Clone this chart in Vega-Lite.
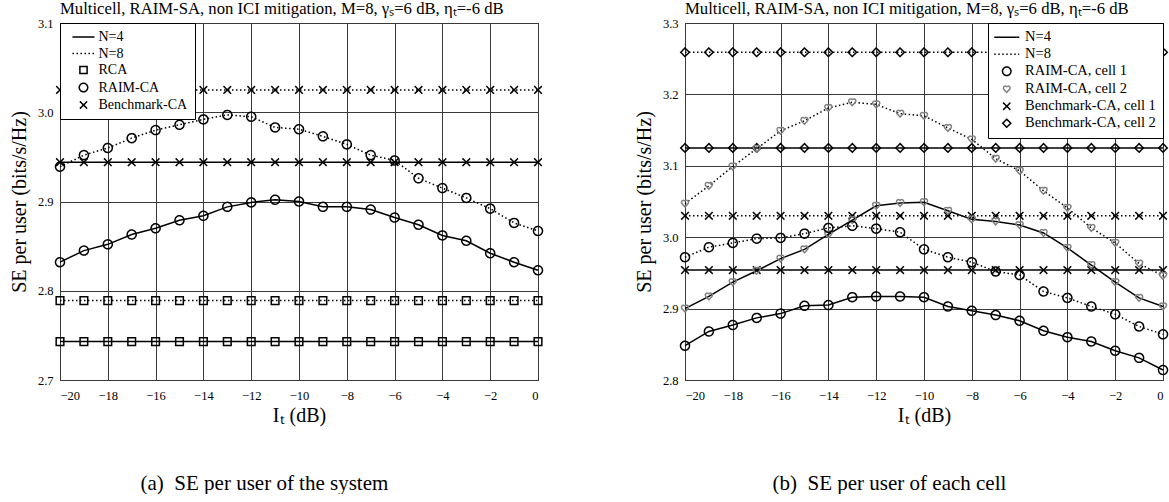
{
  "$schema": "https://vega.github.io/schema/vega-lite/v6.json",
  "padding": {"left": 8, "top": 0, "right": 0, "bottom": 0},
  "background": "white",
  "datasets": {
    "a": [
      {"series":"RCA","N":"N=4","It":-20,"SE":2.743},{"series":"RCA","N":"N=4","It":-19,"SE":2.743},{"series":"RCA","N":"N=4","It":-18,"SE":2.743},{"series":"RCA","N":"N=4","It":-17,"SE":2.743},{"series":"RCA","N":"N=4","It":-16,"SE":2.743},{"series":"RCA","N":"N=4","It":-15,"SE":2.743},{"series":"RCA","N":"N=4","It":-14,"SE":2.743},{"series":"RCA","N":"N=4","It":-13,"SE":2.743},{"series":"RCA","N":"N=4","It":-12,"SE":2.743},{"series":"RCA","N":"N=4","It":-11,"SE":2.743},{"series":"RCA","N":"N=4","It":-10,"SE":2.743},{"series":"RCA","N":"N=4","It":-9,"SE":2.743},{"series":"RCA","N":"N=4","It":-8,"SE":2.743},{"series":"RCA","N":"N=4","It":-7,"SE":2.743},{"series":"RCA","N":"N=4","It":-6,"SE":2.743},{"series":"RCA","N":"N=4","It":-5,"SE":2.743},{"series":"RCA","N":"N=4","It":-4,"SE":2.743},{"series":"RCA","N":"N=4","It":-3,"SE":2.743},{"series":"RCA","N":"N=4","It":-2,"SE":2.743},{"series":"RCA","N":"N=4","It":-1,"SE":2.743},{"series":"RCA","N":"N=4","It":0,"SE":2.743},
      {"series":"RCA","N":"N=8","It":-20,"SE":2.789},{"series":"RCA","N":"N=8","It":-19,"SE":2.789},{"series":"RCA","N":"N=8","It":-18,"SE":2.789},{"series":"RCA","N":"N=8","It":-17,"SE":2.789},{"series":"RCA","N":"N=8","It":-16,"SE":2.789},{"series":"RCA","N":"N=8","It":-15,"SE":2.789},{"series":"RCA","N":"N=8","It":-14,"SE":2.789},{"series":"RCA","N":"N=8","It":-13,"SE":2.789},{"series":"RCA","N":"N=8","It":-12,"SE":2.789},{"series":"RCA","N":"N=8","It":-11,"SE":2.789},{"series":"RCA","N":"N=8","It":-10,"SE":2.789},{"series":"RCA","N":"N=8","It":-9,"SE":2.789},{"series":"RCA","N":"N=8","It":-8,"SE":2.789},{"series":"RCA","N":"N=8","It":-7,"SE":2.789},{"series":"RCA","N":"N=8","It":-6,"SE":2.789},{"series":"RCA","N":"N=8","It":-5,"SE":2.789},{"series":"RCA","N":"N=8","It":-4,"SE":2.789},{"series":"RCA","N":"N=8","It":-3,"SE":2.789},{"series":"RCA","N":"N=8","It":-2,"SE":2.789},{"series":"RCA","N":"N=8","It":-1,"SE":2.789},{"series":"RCA","N":"N=8","It":0,"SE":2.789},
      {"series":"Benchmark-CA","N":"N=4","It":-20,"SE":2.944},{"series":"Benchmark-CA","N":"N=4","It":-19,"SE":2.944},{"series":"Benchmark-CA","N":"N=4","It":-18,"SE":2.944},{"series":"Benchmark-CA","N":"N=4","It":-17,"SE":2.944},{"series":"Benchmark-CA","N":"N=4","It":-16,"SE":2.944},{"series":"Benchmark-CA","N":"N=4","It":-15,"SE":2.944},{"series":"Benchmark-CA","N":"N=4","It":-14,"SE":2.944},{"series":"Benchmark-CA","N":"N=4","It":-13,"SE":2.944},{"series":"Benchmark-CA","N":"N=4","It":-12,"SE":2.944},{"series":"Benchmark-CA","N":"N=4","It":-11,"SE":2.944},{"series":"Benchmark-CA","N":"N=4","It":-10,"SE":2.944},{"series":"Benchmark-CA","N":"N=4","It":-9,"SE":2.944},{"series":"Benchmark-CA","N":"N=4","It":-8,"SE":2.944},{"series":"Benchmark-CA","N":"N=4","It":-7,"SE":2.944},{"series":"Benchmark-CA","N":"N=4","It":-6,"SE":2.944},{"series":"Benchmark-CA","N":"N=4","It":-5,"SE":2.944},{"series":"Benchmark-CA","N":"N=4","It":-4,"SE":2.944},{"series":"Benchmark-CA","N":"N=4","It":-3,"SE":2.944},{"series":"Benchmark-CA","N":"N=4","It":-2,"SE":2.944},{"series":"Benchmark-CA","N":"N=4","It":-1,"SE":2.944},{"series":"Benchmark-CA","N":"N=4","It":0,"SE":2.944},
      {"series":"Benchmark-CA","N":"N=8","It":-20,"SE":3.025},{"series":"Benchmark-CA","N":"N=8","It":-19,"SE":3.025},{"series":"Benchmark-CA","N":"N=8","It":-18,"SE":3.025},{"series":"Benchmark-CA","N":"N=8","It":-17,"SE":3.025},{"series":"Benchmark-CA","N":"N=8","It":-16,"SE":3.025},{"series":"Benchmark-CA","N":"N=8","It":-15,"SE":3.025},{"series":"Benchmark-CA","N":"N=8","It":-14,"SE":3.025},{"series":"Benchmark-CA","N":"N=8","It":-13,"SE":3.025},{"series":"Benchmark-CA","N":"N=8","It":-12,"SE":3.025},{"series":"Benchmark-CA","N":"N=8","It":-11,"SE":3.025},{"series":"Benchmark-CA","N":"N=8","It":-10,"SE":3.025},{"series":"Benchmark-CA","N":"N=8","It":-9,"SE":3.025},{"series":"Benchmark-CA","N":"N=8","It":-8,"SE":3.025},{"series":"Benchmark-CA","N":"N=8","It":-7,"SE":3.025},{"series":"Benchmark-CA","N":"N=8","It":-6,"SE":3.025},{"series":"Benchmark-CA","N":"N=8","It":-5,"SE":3.025},{"series":"Benchmark-CA","N":"N=8","It":-4,"SE":3.025},{"series":"Benchmark-CA","N":"N=8","It":-3,"SE":3.025},{"series":"Benchmark-CA","N":"N=8","It":-2,"SE":3.025},{"series":"Benchmark-CA","N":"N=8","It":-1,"SE":3.025},{"series":"Benchmark-CA","N":"N=8","It":0,"SE":3.025},
      {"series":"RAIM-CA","N":"N=4","It":-20,"SE":2.832},{"series":"RAIM-CA","N":"N=4","It":-19,"SE":2.845},{"series":"RAIM-CA","N":"N=4","It":-18,"SE":2.852},{"series":"RAIM-CA","N":"N=4","It":-17,"SE":2.863},{"series":"RAIM-CA","N":"N=4","It":-16,"SE":2.870},{"series":"RAIM-CA","N":"N=4","It":-15,"SE":2.879},{"series":"RAIM-CA","N":"N=4","It":-14,"SE":2.884},{"series":"RAIM-CA","N":"N=4","It":-13,"SE":2.894},{"series":"RAIM-CA","N":"N=4","It":-12,"SE":2.899},{"series":"RAIM-CA","N":"N=4","It":-11,"SE":2.902},{"series":"RAIM-CA","N":"N=4","It":-10,"SE":2.900},{"series":"RAIM-CA","N":"N=4","It":-9,"SE":2.894},{"series":"RAIM-CA","N":"N=4","It":-8,"SE":2.894},{"series":"RAIM-CA","N":"N=4","It":-7,"SE":2.891},{"series":"RAIM-CA","N":"N=4","It":-6,"SE":2.882},{"series":"RAIM-CA","N":"N=4","It":-5,"SE":2.874},{"series":"RAIM-CA","N":"N=4","It":-4,"SE":2.862},{"series":"RAIM-CA","N":"N=4","It":-3,"SE":2.856},{"series":"RAIM-CA","N":"N=4","It":-2,"SE":2.842},{"series":"RAIM-CA","N":"N=4","It":-1,"SE":2.832},{"series":"RAIM-CA","N":"N=4","It":0,"SE":2.823},
      {"series":"RAIM-CA","N":"N=8","It":-20,"SE":2.939},{"series":"RAIM-CA","N":"N=8","It":-19,"SE":2.952},{"series":"RAIM-CA","N":"N=8","It":-18,"SE":2.960},{"series":"RAIM-CA","N":"N=8","It":-17,"SE":2.971},{"series":"RAIM-CA","N":"N=8","It":-16,"SE":2.980},{"series":"RAIM-CA","N":"N=8","It":-15,"SE":2.986},{"series":"RAIM-CA","N":"N=8","It":-14,"SE":2.992},{"series":"RAIM-CA","N":"N=8","It":-13,"SE":2.997},{"series":"RAIM-CA","N":"N=8","It":-12,"SE":2.995},{"series":"RAIM-CA","N":"N=8","It":-11,"SE":2.983},{"series":"RAIM-CA","N":"N=8","It":-10,"SE":2.981},{"series":"RAIM-CA","N":"N=8","It":-9,"SE":2.973},{"series":"RAIM-CA","N":"N=8","It":-8,"SE":2.964},{"series":"RAIM-CA","N":"N=8","It":-7,"SE":2.952},{"series":"RAIM-CA","N":"N=8","It":-6,"SE":2.946},{"series":"RAIM-CA","N":"N=8","It":-5,"SE":2.926},{"series":"RAIM-CA","N":"N=8","It":-4,"SE":2.915},{"series":"RAIM-CA","N":"N=8","It":-3,"SE":2.904},{"series":"RAIM-CA","N":"N=8","It":-2,"SE":2.892},{"series":"RAIM-CA","N":"N=8","It":-1,"SE":2.876},{"series":"RAIM-CA","N":"N=8","It":0,"SE":2.867}
    ],
    "b": [
      {"series":"Benchmark-CA, cell 2","N":"N=8","It":-20,"SE":3.259},{"series":"Benchmark-CA, cell 2","N":"N=8","It":-19,"SE":3.259},{"series":"Benchmark-CA, cell 2","N":"N=8","It":-18,"SE":3.259},{"series":"Benchmark-CA, cell 2","N":"N=8","It":-17,"SE":3.259},{"series":"Benchmark-CA, cell 2","N":"N=8","It":-16,"SE":3.259},{"series":"Benchmark-CA, cell 2","N":"N=8","It":-15,"SE":3.259},{"series":"Benchmark-CA, cell 2","N":"N=8","It":-14,"SE":3.259},{"series":"Benchmark-CA, cell 2","N":"N=8","It":-13,"SE":3.259},{"series":"Benchmark-CA, cell 2","N":"N=8","It":-12,"SE":3.259},{"series":"Benchmark-CA, cell 2","N":"N=8","It":-11,"SE":3.259},{"series":"Benchmark-CA, cell 2","N":"N=8","It":-10,"SE":3.259},{"series":"Benchmark-CA, cell 2","N":"N=8","It":-9,"SE":3.259},{"series":"Benchmark-CA, cell 2","N":"N=8","It":-8,"SE":3.259},{"series":"Benchmark-CA, cell 2","N":"N=8","It":-7,"SE":3.259},{"series":"Benchmark-CA, cell 2","N":"N=8","It":-6,"SE":3.259},{"series":"Benchmark-CA, cell 2","N":"N=8","It":-5,"SE":3.259},{"series":"Benchmark-CA, cell 2","N":"N=8","It":-4,"SE":3.259},{"series":"Benchmark-CA, cell 2","N":"N=8","It":-3,"SE":3.259},{"series":"Benchmark-CA, cell 2","N":"N=8","It":-2,"SE":3.259},{"series":"Benchmark-CA, cell 2","N":"N=8","It":-1,"SE":3.259},{"series":"Benchmark-CA, cell 2","N":"N=8","It":0,"SE":3.259},
      {"series":"Benchmark-CA, cell 2","N":"N=4","It":-20,"SE":3.125},{"series":"Benchmark-CA, cell 2","N":"N=4","It":-19,"SE":3.125},{"series":"Benchmark-CA, cell 2","N":"N=4","It":-18,"SE":3.125},{"series":"Benchmark-CA, cell 2","N":"N=4","It":-17,"SE":3.125},{"series":"Benchmark-CA, cell 2","N":"N=4","It":-16,"SE":3.125},{"series":"Benchmark-CA, cell 2","N":"N=4","It":-15,"SE":3.125},{"series":"Benchmark-CA, cell 2","N":"N=4","It":-14,"SE":3.125},{"series":"Benchmark-CA, cell 2","N":"N=4","It":-13,"SE":3.125},{"series":"Benchmark-CA, cell 2","N":"N=4","It":-12,"SE":3.125},{"series":"Benchmark-CA, cell 2","N":"N=4","It":-11,"SE":3.125},{"series":"Benchmark-CA, cell 2","N":"N=4","It":-10,"SE":3.125},{"series":"Benchmark-CA, cell 2","N":"N=4","It":-9,"SE":3.125},{"series":"Benchmark-CA, cell 2","N":"N=4","It":-8,"SE":3.125},{"series":"Benchmark-CA, cell 2","N":"N=4","It":-7,"SE":3.125},{"series":"Benchmark-CA, cell 2","N":"N=4","It":-6,"SE":3.125},{"series":"Benchmark-CA, cell 2","N":"N=4","It":-5,"SE":3.125},{"series":"Benchmark-CA, cell 2","N":"N=4","It":-4,"SE":3.125},{"series":"Benchmark-CA, cell 2","N":"N=4","It":-3,"SE":3.125},{"series":"Benchmark-CA, cell 2","N":"N=4","It":-2,"SE":3.125},{"series":"Benchmark-CA, cell 2","N":"N=4","It":-1,"SE":3.125},{"series":"Benchmark-CA, cell 2","N":"N=4","It":0,"SE":3.125},
      {"series":"Benchmark-CA, cell 1","N":"N=8","It":-20,"SE":3.030},{"series":"Benchmark-CA, cell 1","N":"N=8","It":-19,"SE":3.030},{"series":"Benchmark-CA, cell 1","N":"N=8","It":-18,"SE":3.030},{"series":"Benchmark-CA, cell 1","N":"N=8","It":-17,"SE":3.030},{"series":"Benchmark-CA, cell 1","N":"N=8","It":-16,"SE":3.030},{"series":"Benchmark-CA, cell 1","N":"N=8","It":-15,"SE":3.030},{"series":"Benchmark-CA, cell 1","N":"N=8","It":-14,"SE":3.030},{"series":"Benchmark-CA, cell 1","N":"N=8","It":-13,"SE":3.030},{"series":"Benchmark-CA, cell 1","N":"N=8","It":-12,"SE":3.030},{"series":"Benchmark-CA, cell 1","N":"N=8","It":-11,"SE":3.030},{"series":"Benchmark-CA, cell 1","N":"N=8","It":-10,"SE":3.030},{"series":"Benchmark-CA, cell 1","N":"N=8","It":-9,"SE":3.030},{"series":"Benchmark-CA, cell 1","N":"N=8","It":-8,"SE":3.030},{"series":"Benchmark-CA, cell 1","N":"N=8","It":-7,"SE":3.030},{"series":"Benchmark-CA, cell 1","N":"N=8","It":-6,"SE":3.030},{"series":"Benchmark-CA, cell 1","N":"N=8","It":-5,"SE":3.030},{"series":"Benchmark-CA, cell 1","N":"N=8","It":-4,"SE":3.030},{"series":"Benchmark-CA, cell 1","N":"N=8","It":-3,"SE":3.030},{"series":"Benchmark-CA, cell 1","N":"N=8","It":-2,"SE":3.030},{"series":"Benchmark-CA, cell 1","N":"N=8","It":-1,"SE":3.030},{"series":"Benchmark-CA, cell 1","N":"N=8","It":0,"SE":3.030},
      {"series":"Benchmark-CA, cell 1","N":"N=4","It":-20,"SE":2.954},{"series":"Benchmark-CA, cell 1","N":"N=4","It":-19,"SE":2.954},{"series":"Benchmark-CA, cell 1","N":"N=4","It":-18,"SE":2.954},{"series":"Benchmark-CA, cell 1","N":"N=4","It":-17,"SE":2.954},{"series":"Benchmark-CA, cell 1","N":"N=4","It":-16,"SE":2.954},{"series":"Benchmark-CA, cell 1","N":"N=4","It":-15,"SE":2.954},{"series":"Benchmark-CA, cell 1","N":"N=4","It":-14,"SE":2.954},{"series":"Benchmark-CA, cell 1","N":"N=4","It":-13,"SE":2.954},{"series":"Benchmark-CA, cell 1","N":"N=4","It":-12,"SE":2.954},{"series":"Benchmark-CA, cell 1","N":"N=4","It":-11,"SE":2.954},{"series":"Benchmark-CA, cell 1","N":"N=4","It":-10,"SE":2.954},{"series":"Benchmark-CA, cell 1","N":"N=4","It":-9,"SE":2.954},{"series":"Benchmark-CA, cell 1","N":"N=4","It":-8,"SE":2.954},{"series":"Benchmark-CA, cell 1","N":"N=4","It":-7,"SE":2.954},{"series":"Benchmark-CA, cell 1","N":"N=4","It":-6,"SE":2.954},{"series":"Benchmark-CA, cell 1","N":"N=4","It":-5,"SE":2.954},{"series":"Benchmark-CA, cell 1","N":"N=4","It":-4,"SE":2.954},{"series":"Benchmark-CA, cell 1","N":"N=4","It":-3,"SE":2.954},{"series":"Benchmark-CA, cell 1","N":"N=4","It":-2,"SE":2.954},{"series":"Benchmark-CA, cell 1","N":"N=4","It":-1,"SE":2.954},{"series":"Benchmark-CA, cell 1","N":"N=4","It":0,"SE":2.954},
      {"series":"RAIM-CA, cell 2","N":"N=8","It":-20,"SE":3.047},{"series":"RAIM-CA, cell 2","N":"N=8","It":-19,"SE":3.072},{"series":"RAIM-CA, cell 2","N":"N=8","It":-18,"SE":3.099},{"series":"RAIM-CA, cell 2","N":"N=8","It":-17,"SE":3.124},{"series":"RAIM-CA, cell 2","N":"N=8","It":-16,"SE":3.149},{"series":"RAIM-CA, cell 2","N":"N=8","It":-15,"SE":3.163},{"series":"RAIM-CA, cell 2","N":"N=8","It":-14,"SE":3.181},{"series":"RAIM-CA, cell 2","N":"N=8","It":-13,"SE":3.189},{"series":"RAIM-CA, cell 2","N":"N=8","It":-12,"SE":3.186},{"series":"RAIM-CA, cell 2","N":"N=8","It":-11,"SE":3.173},{"series":"RAIM-CA, cell 2","N":"N=8","It":-10,"SE":3.170},{"series":"RAIM-CA, cell 2","N":"N=8","It":-9,"SE":3.153},{"series":"RAIM-CA, cell 2","N":"N=8","It":-8,"SE":3.137},{"series":"RAIM-CA, cell 2","N":"N=8","It":-7,"SE":3.110},{"series":"RAIM-CA, cell 2","N":"N=8","It":-6,"SE":3.093},{"series":"RAIM-CA, cell 2","N":"N=8","It":-5,"SE":3.065},{"series":"RAIM-CA, cell 2","N":"N=8","It":-4,"SE":3.041},{"series":"RAIM-CA, cell 2","N":"N=8","It":-3,"SE":3.013},{"series":"RAIM-CA, cell 2","N":"N=8","It":-2,"SE":2.992},{"series":"RAIM-CA, cell 2","N":"N=8","It":-1,"SE":2.963},{"series":"RAIM-CA, cell 2","N":"N=8","It":0,"SE":2.946},
      {"series":"RAIM-CA, cell 2","N":"N=4","It":-20,"SE":2.900},{"series":"RAIM-CA, cell 2","N":"N=4","It":-19,"SE":2.917},{"series":"RAIM-CA, cell 2","N":"N=4","It":-18,"SE":2.937},{"series":"RAIM-CA, cell 2","N":"N=4","It":-17,"SE":2.953},{"series":"RAIM-CA, cell 2","N":"N=4","It":-16,"SE":2.970},{"series":"RAIM-CA, cell 2","N":"N=4","It":-15,"SE":2.983},{"series":"RAIM-CA, cell 2","N":"N=4","It":-14,"SE":3.004},{"series":"RAIM-CA, cell 2","N":"N=4","It":-13,"SE":3.024},{"series":"RAIM-CA, cell 2","N":"N=4","It":-12,"SE":3.044},{"series":"RAIM-CA, cell 2","N":"N=4","It":-11,"SE":3.048},{"series":"RAIM-CA, cell 2","N":"N=4","It":-10,"SE":3.049},{"series":"RAIM-CA, cell 2","N":"N=4","It":-9,"SE":3.037},{"series":"RAIM-CA, cell 2","N":"N=4","It":-8,"SE":3.025},{"series":"RAIM-CA, cell 2","N":"N=4","It":-7,"SE":3.022},{"series":"RAIM-CA, cell 2","N":"N=4","It":-6,"SE":3.017},{"series":"RAIM-CA, cell 2","N":"N=4","It":-5,"SE":3.006},{"series":"RAIM-CA, cell 2","N":"N=4","It":-4,"SE":2.985},{"series":"RAIM-CA, cell 2","N":"N=4","It":-3,"SE":2.961},{"series":"RAIM-CA, cell 2","N":"N=4","It":-2,"SE":2.937},{"series":"RAIM-CA, cell 2","N":"N=4","It":-1,"SE":2.915},{"series":"RAIM-CA, cell 2","N":"N=4","It":0,"SE":2.903},
      {"series":"RAIM-CA, cell 1","N":"N=8","It":-20,"SE":2.972},{"series":"RAIM-CA, cell 1","N":"N=8","It":-19,"SE":2.986},{"series":"RAIM-CA, cell 1","N":"N=8","It":-18,"SE":2.992},{"series":"RAIM-CA, cell 1","N":"N=8","It":-17,"SE":2.998},{"series":"RAIM-CA, cell 1","N":"N=8","It":-16,"SE":2.999},{"series":"RAIM-CA, cell 1","N":"N=8","It":-15,"SE":3.005},{"series":"RAIM-CA, cell 1","N":"N=8","It":-14,"SE":3.013},{"series":"RAIM-CA, cell 1","N":"N=8","It":-13,"SE":3.016},{"series":"RAIM-CA, cell 1","N":"N=8","It":-12,"SE":3.012},{"series":"RAIM-CA, cell 1","N":"N=8","It":-11,"SE":3.007},{"series":"RAIM-CA, cell 1","N":"N=8","It":-10,"SE":2.983},{"series":"RAIM-CA, cell 1","N":"N=8","It":-9,"SE":2.972},{"series":"RAIM-CA, cell 1","N":"N=8","It":-8,"SE":2.965},{"series":"RAIM-CA, cell 1","N":"N=8","It":-7,"SE":2.952},{"series":"RAIM-CA, cell 1","N":"N=8","It":-6,"SE":2.947},{"series":"RAIM-CA, cell 1","N":"N=8","It":-5,"SE":2.924},{"series":"RAIM-CA, cell 1","N":"N=8","It":-4,"SE":2.915},{"series":"RAIM-CA, cell 1","N":"N=8","It":-3,"SE":2.903},{"series":"RAIM-CA, cell 1","N":"N=8","It":-2,"SE":2.892},{"series":"RAIM-CA, cell 1","N":"N=8","It":-1,"SE":2.875},{"series":"RAIM-CA, cell 1","N":"N=8","It":0,"SE":2.864},
      {"series":"RAIM-CA, cell 1","N":"N=4","It":-20,"SE":2.848},{"series":"RAIM-CA, cell 1","N":"N=4","It":-19,"SE":2.868},{"series":"RAIM-CA, cell 1","N":"N=4","It":-18,"SE":2.877},{"series":"RAIM-CA, cell 1","N":"N=4","It":-17,"SE":2.887},{"series":"RAIM-CA, cell 1","N":"N=4","It":-16,"SE":2.893},{"series":"RAIM-CA, cell 1","N":"N=4","It":-15,"SE":2.904},{"series":"RAIM-CA, cell 1","N":"N=4","It":-14,"SE":2.905},{"series":"RAIM-CA, cell 1","N":"N=4","It":-13,"SE":2.916},{"series":"RAIM-CA, cell 1","N":"N=4","It":-12,"SE":2.917},{"series":"RAIM-CA, cell 1","N":"N=4","It":-11,"SE":2.917},{"series":"RAIM-CA, cell 1","N":"N=4","It":-10,"SE":2.916},{"series":"RAIM-CA, cell 1","N":"N=4","It":-9,"SE":2.903},{"series":"RAIM-CA, cell 1","N":"N=4","It":-8,"SE":2.897},{"series":"RAIM-CA, cell 1","N":"N=4","It":-7,"SE":2.891},{"series":"RAIM-CA, cell 1","N":"N=4","It":-6,"SE":2.883},{"series":"RAIM-CA, cell 1","N":"N=4","It":-5,"SE":2.869},{"series":"RAIM-CA, cell 1","N":"N=4","It":-4,"SE":2.860},{"series":"RAIM-CA, cell 1","N":"N=4","It":-3,"SE":2.854},{"series":"RAIM-CA, cell 1","N":"N=4","It":-2,"SE":2.841},{"series":"RAIM-CA, cell 1","N":"N=4","It":-1,"SE":2.831},{"series":"RAIM-CA, cell 1","N":"N=4","It":0,"SE":2.814}
    ]
  },
  "spacing": 87,
  "hconcat": [
    {
      "title": {"text": "(a)\u00a0\u00a0SE per user of the system", "orient": "bottom", "anchor": "middle", "fontSize": 21, "offset": 47, "dx": -13},
      "resolve": {"scale": {"shape": "independent", "color": "independent", "strokeDash": "independent"}, "legend": {"shape": "independent", "color": "independent", "strokeDash": "independent"}},
      "vconcat": [
        {
          "width": 478,
          "height": 357,
          "title": {"text": "Multicell, RAIM-SA, non ICI mitigation, M=8, γₛ=6 dB, ηₜ=-6 dB", "anchor": "start", "frame": "group", "fontSize": 16.7, "offset": -1},
          "data": {"name": "a"},
          "encoding": {
            "x": {"field": "It", "type": "quantitative", "scale": {"domain": [-20, 0], "nice": false}, "axis": {"values": [-20, -18, -16, -14, -12, -10, -8, -6, -4, -2, 0], "format": "d", "title": "Iₜ (dB)", "labelPadding": 9, "titlePadding": 4}},
            "y": {"field": "SE", "type": "quantitative", "scale": {"domain": [2.7, 3.1], "zero": false, "nice": false}, "axis": {"values": [2.7, 2.8, 2.9, 3.0, 3.1], "format": ".1f", "title": "SE per user (bits/s/Hz)", "labelPadding": 7, "titlePadding": 8}}
          },
          "layer": [
            {
              "transform": [{"filter": "datum.N == 'N=4'"}],
              "mark": {"type": "line", "color": "black", "strokeWidth": 1.5},
              "encoding": {"detail": {"field": "series"}}
            },
            {
              "transform": [{"filter": "datum.N == 'N=8'"}],
              "mark": {"type": "line", "color": "black", "strokeWidth": 1.5, "strokeDash": [1.5, 2.5]},
              "encoding": {"detail": {"field": "series"}}
            },
            {
              "mark": {"type": "point", "filled": false, "size": 81, "strokeWidth": 1.5, "opacity": 1},
              "encoding": {
                "detail": {"field": "N"},
                "shape": {"field": "series", "type": "nominal",
                  "scale": {"domain": ["N=4", "N=8", "RCA", "RAIM-CA", "Benchmark-CA"], "range": ["M-2.6,0H2.6", "M-2.6,0H2.6", "M-0.85,-0.85H0.85V0.85H-0.85Z", "circle", "M-0.85,-0.85L0.85,0.85M-0.85,0.85L0.85,-0.85"]},
                  "legend": {"title": null, "orient": "top-left", "offset": 0, "fillColor": "white", "strokeColor": "black", "padding": 7, "labelFontSize": 14, "labelOffset": 8, "symbolOffset": 9.5, "rowPadding": 2.5, "symbolSize": 72, "symbolStrokeWidth": 1.5}},
                "color": {"field": "series", "type": "nominal",
                  "scale": {"domain": ["N=4", "N=8", "RCA", "RAIM-CA", "Benchmark-CA"], "range": ["black", "black", "black", "black", "black"]},
                  "legend": {"title": null, "orient": "top-left", "offset": 0, "fillColor": "white", "strokeColor": "black", "padding": 7, "labelFontSize": 14, "labelOffset": 8, "symbolOffset": 9.5, "rowPadding": 2.5, "symbolSize": 72, "symbolStrokeWidth": 1.5}},
                "strokeDash": {"field": "series", "type": "nominal",
                  "scale": {"domain": ["N=4", "N=8", "RCA", "RAIM-CA", "Benchmark-CA"], "range": [[1, 0], [1.5, 2.5], [1, 0], [1, 0], [1, 0]]},
                  "legend": {"title": null, "orient": "top-left", "offset": 0, "fillColor": "white", "strokeColor": "black", "padding": 7, "labelFontSize": 14, "labelOffset": 8, "symbolOffset": 9.5, "rowPadding": 2.5, "symbolSize": 72, "symbolStrokeWidth": 1.5}}
              }
            }
          ]
        }
      ]
    },
    {
      "title": {"text": "(b)\u00a0\u00a0SE per user of each cell", "orient": "bottom", "anchor": "middle", "fontSize": 21, "offset": 47, "dx": -13},
      "resolve": {"scale": {"shape": "independent", "color": "independent", "strokeDash": "independent"}, "legend": {"shape": "independent", "color": "independent", "strokeDash": "independent"}},
      "vconcat": [
        {
          "width": 478,
          "height": 357,
          "title": {"text": "Multicell, RAIM-SA, non ICI mitigation, M=8, γₛ=6 dB, ηₜ=-6 dB", "anchor": "start", "frame": "group", "fontSize": 16.7, "offset": -1},
          "data": {"name": "b"},
          "encoding": {
            "x": {"field": "It", "type": "quantitative", "scale": {"domain": [-20, 0], "nice": false}, "axis": {"values": [-20, -18, -16, -14, -12, -10, -8, -6, -4, -2, 0], "format": "d", "title": "Iₜ (dB)", "labelPadding": 9, "titlePadding": 4}},
            "y": {"field": "SE", "type": "quantitative", "scale": {"domain": [2.8, 3.3], "zero": false, "nice": false}, "axis": {"values": [2.8, 2.9, 3.0, 3.1, 3.2, 3.3], "format": ".1f", "title": "SE per user (bits/s/Hz)", "labelPadding": 7, "titlePadding": 8}}
          },
          "layer": [
            {
              "transform": [{"filter": "datum.N == 'N=4'"}],
              "mark": {"type": "line", "color": "black", "strokeWidth": 1.5},
              "encoding": {"detail": {"field": "series"}}
            },
            {
              "transform": [{"filter": "datum.N == 'N=8'"}],
              "mark": {"type": "line", "color": "black", "strokeWidth": 1.5, "strokeDash": [1.5, 2.5]},
              "encoding": {"detail": {"field": "series"}}
            },
            {
              "mark": {"type": "point", "filled": false, "size": 81, "strokeWidth": 1.5, "opacity": 1},
              "encoding": {
                "detail": {"field": "N"},
                "shape": {"field": "series", "type": "nominal",
                  "scale": {"domain": ["N=4", "N=8", "RAIM-CA, cell 1", "RAIM-CA, cell 2", "Benchmark-CA, cell 1", "Benchmark-CA, cell 2"], "range": ["M-2.95,0H2.95", "M-2.95,0H2.95", "circle", "M0,0.75L-0.65,0.05C-0.95,-0.3,-0.7,-0.75,-0.35,-0.75C-0.15,-0.75,0,-0.6,0,-0.45C0,-0.6,0.15,-0.75,0.35,-0.75C0.7,-0.75,0.95,-0.3,0.65,0.05Z", "M-0.85,-0.85L0.85,0.85M-0.85,0.85L0.85,-0.85", "M0,-0.95L0.95,0L0,0.95L-0.95,0Z"]},
                  "legend": {"title": null, "orient": "top-right", "offset": 0, "fillColor": "white", "strokeColor": "black", "padding": 7, "labelFontSize": 14.5, "labelOffset": 11, "symbolOffset": 4.5, "rowPadding": 2, "symbolSize": 72, "symbolStrokeWidth": 1.5}},
                "color": {"field": "series", "type": "nominal",
                  "scale": {"domain": ["N=4", "N=8", "RAIM-CA, cell 1", "RAIM-CA, cell 2", "Benchmark-CA, cell 1", "Benchmark-CA, cell 2"], "range": ["black", "black", "black", "#808080", "black", "black"]},
                  "legend": {"title": null, "orient": "top-right", "offset": 0, "fillColor": "white", "strokeColor": "black", "padding": 7, "labelFontSize": 14.5, "labelOffset": 11, "symbolOffset": 4.5, "rowPadding": 2, "symbolSize": 72, "symbolStrokeWidth": 1.5}},
                "strokeDash": {"field": "series", "type": "nominal",
                  "scale": {"domain": ["N=4", "N=8", "RAIM-CA, cell 1", "RAIM-CA, cell 2", "Benchmark-CA, cell 1", "Benchmark-CA, cell 2"], "range": [[1, 0], [1.5, 2.5], [1, 0], [1, 0], [1, 0], [1, 0]]},
                  "legend": {"title": null, "orient": "top-right", "offset": 0, "fillColor": "white", "strokeColor": "black", "padding": 7, "labelFontSize": 14.5, "labelOffset": 11, "symbolOffset": 4.5, "rowPadding": 2, "symbolSize": 72, "symbolStrokeWidth": 1.5}}
              }
            }
          ]
        }
      ]
    }
  ],
  "resolve": {"scale": {"shape": "independent", "color": "independent", "strokeDash": "independent"}, "legend": {"shape": "independent", "color": "independent", "strokeDash": "independent"}},
  "config": {
    "font": "Liberation Serif",
    "view": {"stroke": "black", "strokeWidth": 1},
    "axis": {"grid": true, "gridColor": "#3a3a3a", "gridOpacity": 1, "gridWidth": 1, "domain": false, "ticks": false, "labelFont": "Liberation Serif", "labelFontSize": 12.5, "labelColor": "black", "titleFont": "Liberation Serif", "titleFontSize": 20, "titleFontWeight": "normal", "titleColor": "black"},
    "legend": {"labelFont": "Liberation Serif", "labelColor": "black"},
    "title": {"font": "Liberation Serif", "fontWeight": "normal", "color": "black"}
  }
}
